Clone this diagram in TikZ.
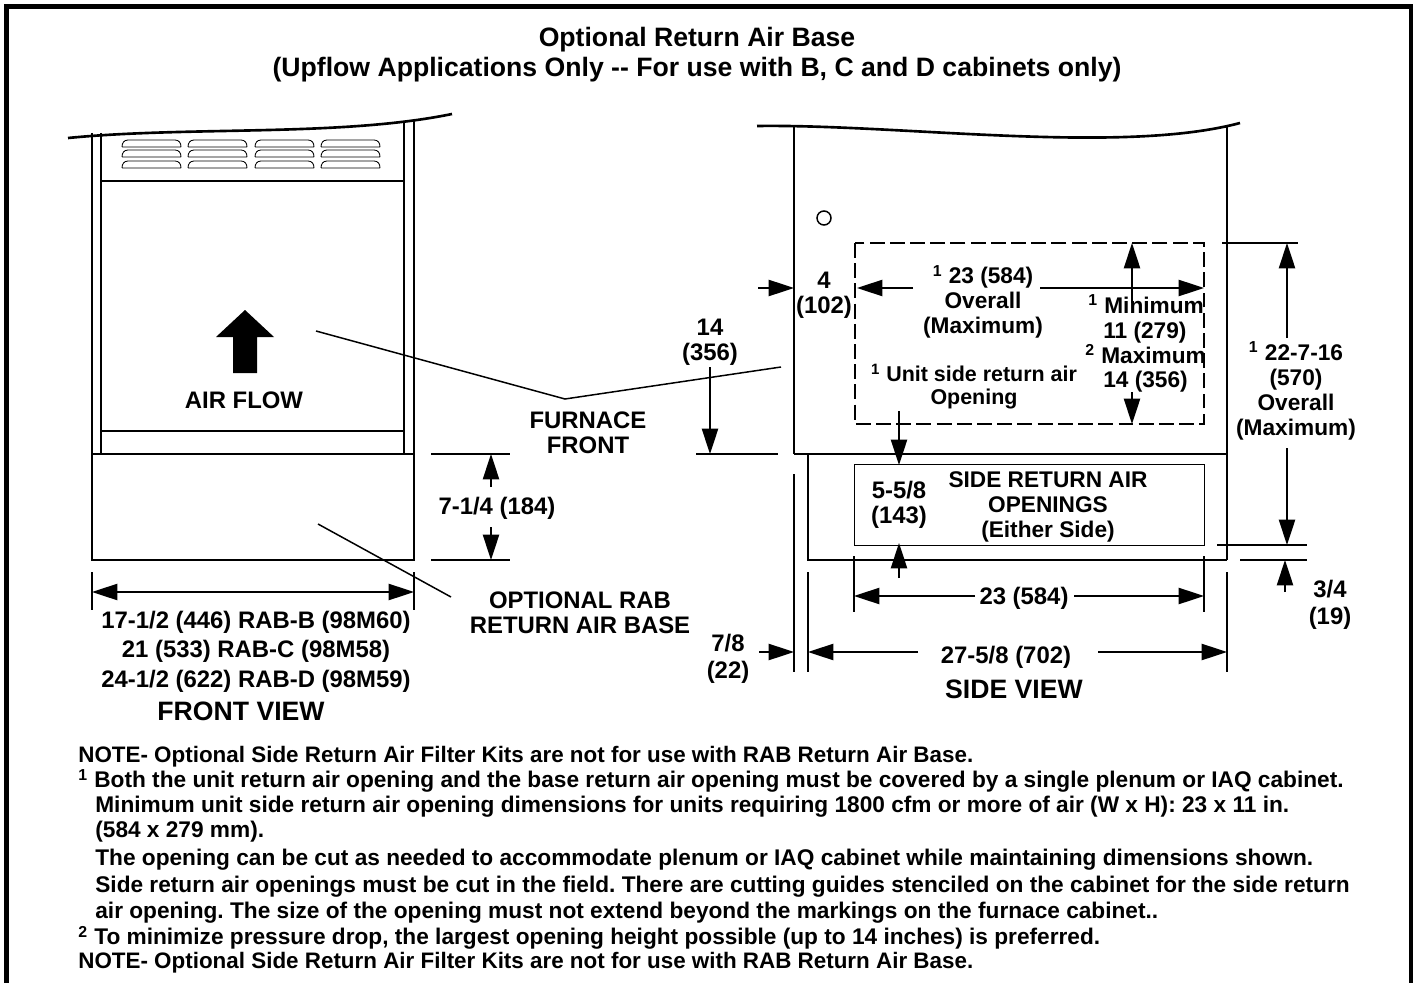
\documentclass[tikz,border=0pt]{standalone}
\usepackage{fontspec}
\setmainfont{Liberation Sans}
\usetikzlibrary{arrows.meta}
\frenchspacing
\tikzset{
    heavy/.style={line width=1.5pt},
    medium/.style={line width=1.1pt},
    thinln/.style={line width=0.85pt},
    dimarrow/.style={line width=0.85pt, -{Triangle[length=14.5pt, width=9.3pt]}},
    lbl/.style={font=\fontsize{13.6}{14.4}\selectfont\bfseries, inner sep=0pt, align=center},
    sidelbl/.style={font=\fontsize{12.9}{14.2}\selectfont\bfseries, inner sep=0pt, align=center},
    viewlbl/.style={font=\fontsize{15.15}{16}\selectfont\bfseries, inner sep=0pt, align=center},
    notetxt/.style={font=\fontsize{12.9}{13}\selectfont\bfseries, inner sep=0pt, anchor=west}
}

\begin{document}
\begin{tikzpicture}[x=0.02cm, y=-0.02cm]
    \useasboundingbox (0,0) rectangle (1413,983);
    % Frame
    \draw[line width=3.1pt] (6.5,990) -- (6.5,6.5) -- (1411.5,6.5) -- (1411.5,990);
    \node[viewlbl] (title1) at (697,40) {Optional Return Air Base};
    \node[viewlbl] (title2) at (697,70) {(Upflow Applications Only -{}- For use with B, C and D cabinets only)};

    % Front view
    \draw[heavy] (68,138) .. controls (190,126) and (340,137) .. (452,114);
    \draw[heavy] (92,133) -- (92,560) -- (414,560) -- (414,120);
    \draw[heavy] (92,454) -- (414,454);
    \draw[thinln] (101,133) -- (101,454);
    \draw[thinln] (404,121) -- (404,454);
    \draw[thinln] (101,181) -- (404,181);
    \draw[thinln] (101,431) -- (404,431);
    % Louvers
    \foreach \x in {122,188,255,321}
        \foreach \y in {147,157,168}
            \draw[line width=0.5pt] (\x,\y) -- (\x+59,\y) (\x,\y) .. controls (\x,\y-4) and (\x+2,\y-7) .. (\x+6,\y-7) -- (\x+53,\y-7) .. controls (\x+57,\y-7) and (\x+59,\y-4) .. (\x+59,\y);
    % Air flow arrow
    \fill (245,310) -- (274,337) -- (257,337) -- (257,373) -- (233,373) -- (233,337) -- (216,337) -- cycle;
    \node[lbl] (airflow) at (244,400) {AIR FLOW};
    % Leaders
    \draw[thinln] (316,331) -- (565,399) -- (781,367);
    \draw[thinln] (318,524) -- (451,597);
    \node[lbl] (furnfront) at (588,433) {FURNACE\\FRONT};
    \node[lbl] (optrab) at (580,613) {OPTIONAL RAB\\RETURN AIR BASE};
    % Front view dimensions
    \draw[thinln] (92,572) -- (92,610) (414,572) -- (414,610);
    \draw[dimarrow, {Triangle[length=14.5pt, width=9.3pt]}-{Triangle[length=14.5pt, width=9.3pt]}] (92,592) -- (414,592);
    \draw[thinln] (431,454) -- (510,454) (431,560) -- (510,560);
    \draw[dimarrow] (491,487) -- (491,454);
    \draw[dimarrow] (491,527) -- (491,560);
    \node[lbl] (dimrab) at (497,508) {7-1/4 (184)};
    \node[lbl] (rabb) at (256,622) {17-1/2 (446) RAB-B (98M60)};
    \node[lbl] (rabc) at (256,651) {21 (533) RAB-C (98M58)};
    \node[lbl] (rabd) at (256,681) {24-1/2 (622) RAB-D (98M59)};
    \node[viewlbl] (frontview) at (241,711) {FRONT VIEW};

    % Side view
    \draw[heavy] (757,126) .. controls (900,124) and (1120,155) .. (1240,123);
    \draw[medium] (794,126) -- (794,454);
    \draw[medium] (1227,127) -- (1227,560);
    \draw[heavy] (794,454) -- (1227,454);
    \draw[medium] (808,454) -- (808,560) -- (1227,560);
    \draw[thinln] (824,218) circle (7);
    \draw[line width=0.6pt, dash pattern=on 8.5pt off 3pt] (855,243) rectangle (1204,424);
    \draw[line width=0.5pt] (854,464) rectangle (1204,545);
    % Extension lines
    \draw[thinln] (794,474) -- (794,672) (808,572) -- (808,672) (1227,572) -- (1227,672);
    \draw[thinln] (854,556) -- (854,612) (1204,556) -- (1204,612);
    \draw[thinln] (696,454) -- (778,454);
    \draw[thinln] (1222,243) -- (1298,243) (1217,545) -- (1307,545) (1240,560) -- (1307,560);
    % Side view dimensions
    \draw[dimarrow] (710,367) -- (710,454);
    \draw[dimarrow] (758,288) -- (794,288);
    \draw[dimarrow] (913,288) -- (857,288);
    \draw[dimarrow] (1040,288) -- (1204,288);
    \draw[dimarrow] (1132,303) -- (1132,243);
    \draw[dimarrow] (1132,392) -- (1132,424);
    \draw[dimarrow] (899,411) -- (899,465);
    \draw[dimarrow] (899,578) -- (899,543);
    \draw[dimarrow] (975,596) -- (854,596);
    \draw[dimarrow] (1074,596) -- (1204,596);
    \draw[dimarrow] (918,652) -- (808,652);
    \draw[dimarrow] (1098,652) -- (1227,652);
    \draw[dimarrow] (759,652) -- (794,652);
    \draw[dimarrow] (1287,338) -- (1287,243);
    \draw[dimarrow] (1287,448) -- (1287,545);
    \draw[dimarrow] (1285,592) -- (1285,560);
    % Side view labels
    \node[lbl] (dimfourteen) at (710,342) {14\\(356)};
    \node[lbl] (dimfour) at (824,295) {4\\(102)};
    \node[sidelbl] (overall) at (983,302) {\textsuperscript{1} 23 (584)\\Overall\\(Maximum)};
    \node[sidelbl, anchor=west] (minlbl) at (1088,304) {\textsuperscript{1} Minimum};
    \node[sidelbl, anchor=west] (minval) at (1103,333) {11 (279)};
    \node[sidelbl, anchor=west] (maxlbl) at (1085,354) {\textsuperscript{2} Maximum};
    \node[sidelbl, anchor=west] (maxval) at (1103,382) {14 (356)};
    \node[sidelbl, font=\fontsize{12.2}{13}\selectfont\bfseries] (unitside) at (974,373) {\textsuperscript{1} Unit side return air};
    \node[sidelbl, font=\fontsize{12.2}{13}\selectfont\bfseries] (unitopen) at (974,399) {Opening};
    \node[sidelbl] (overallh) at (1296,391) {\textsuperscript{1} 22-7-16\\(570)\\Overall\\(Maximum)};
    \node[lbl] (dimbase) at (899,505) {5-5/8\\(143)};
    \node[sidelbl] (sideopen) at (1048,507) {SIDE RETURN AIR\\OPENINGS\\(Either Side)};
    \node[lbl] (dimtwtr) at (1024,598) {23 (584)};
    \node[lbl] (dimdepth) at (1006,657) {27-5/8 (702)};
    \node[lbl] (dimsevn) at (728,659) {7/8\\[1pt](22)};
    \node[lbl] (dimthree) at (1330,605) {3/4\\[1pt](19)};
    \node[viewlbl] (sideview) at (1014,689) {SIDE VIEW};

    % Notes
    \node[notetxt, font=\fontsize{12.75}{13}\selectfont\bfseries] (note1) at (78,757) {NOTE- Optional Side Return Air Filter Kits are not for use with RAB Return Air Base.};
    \node[notetxt] (note2) at (78,781) {\textsuperscript{1} Both the unit return air opening and the base return air opening must be covered by a single plenum or IAQ cabinet.};
    \node[notetxt] (note3) at (95,807) {Minimum unit side return air opening dimensions for units requiring 1800 cfm or more of air (W x H): 23 x 11 in.};
    \node[notetxt] (note4) at (95,832) {(584 x 279 mm).};
    \node[notetxt] (note5) at (95,860) {The opening can be cut as needed to accommodate plenum or IAQ cabinet while maintaining dimensions shown.};
    \node[notetxt] (note6) at (95,887) {Side return air openings must be cut in the field. There are cutting guides stenciled on the cabinet for the side return};
    \node[notetxt] (note7) at (95,913) {air opening. The size of the opening must not extend beyond the markings on the furnace cabinet..};
    \node[notetxt] (note8) at (78,938) {\textsuperscript{2} To minimize pressure drop, the largest opening height possible (up to 14 inches) is preferred.};
    \node[notetxt, font=\fontsize{12.75}{13}\selectfont\bfseries] (note9) at (78,963) {NOTE- Optional Side Return Air Filter Kits are not for use with RAB Return Air Base.};
\end{tikzpicture}
\end{document}
